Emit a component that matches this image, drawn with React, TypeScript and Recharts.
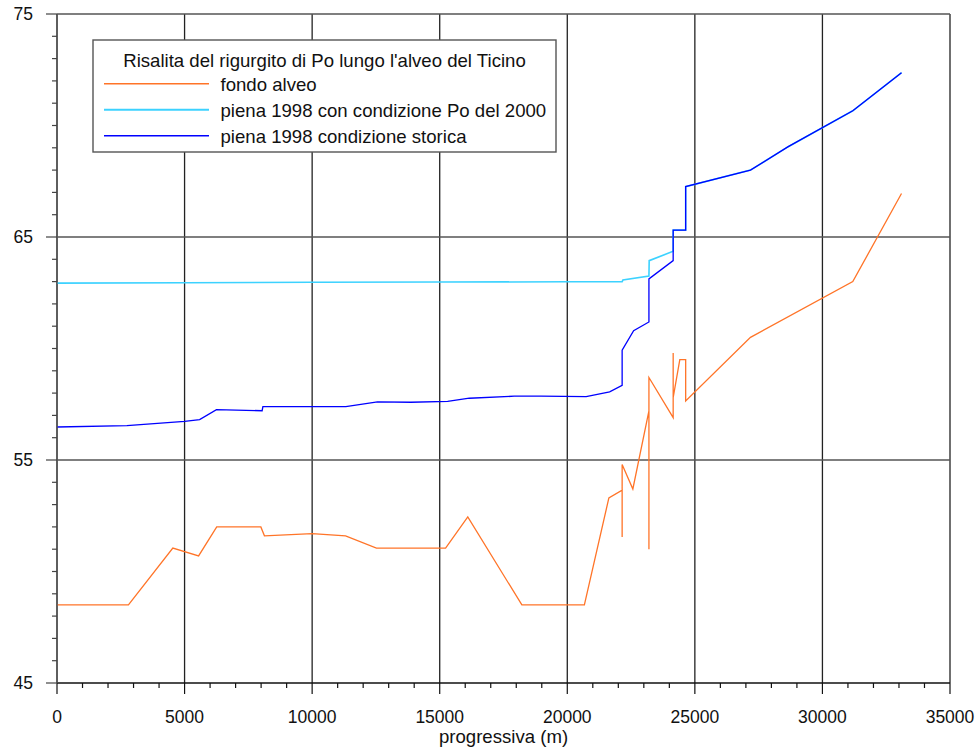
import React from 'react';
import { LineChart, Line, XAxis, YAxis, CartesianGrid } from 'recharts';

// ---- data ----
const fondoX = [0, 2800, 4540, 5550, 6260, 7990, 8130, 10000, 11310, 12520, 15230, 16100, 18220, 20670, 21630, 22150, 22150, 22150, 22570, 23200, 23200, 23200, 24150, 24150, 24150, 24410, 24640, 24640, 27180, 31190, 33100];
const fondoY = [48.5, 48.5, 51.05, 50.7, 52.0, 52.0, 51.6, 51.7, 51.6, 51.05, 51.05, 52.45, 48.5, 48.5, 53.3, 53.65, 51.55, 54.8, 53.7, 57.2, 51.0, 58.7, 56.9, 59.8, 57.8, 59.5, 59.5, 57.65, 60.5, 63.0, 66.95];

const po2000X = [0, 5000, 10000, 15000, 20000, 22150, 22180, 23200, 23210, 24150, 24150, 24640, 24640, 27180, 28660, 31190, 33100];
const po2000Y = [62.93, 62.95, 62.97, 62.98, 62.99, 63.0, 63.07, 63.25, 63.94, 64.36, 65.31, 65.31, 67.26, 68.0, 69.05, 70.66, 72.37];

const storicaX = [0, 2740, 5000, 5590, 6250, 8040, 8070, 11320, 12560, 13870, 15310, 16160, 17920, 18970, 20740, 21660, 22150, 22150, 22600, 23200, 23200, 24150, 24150, 24640, 24640, 27180, 28660, 31190, 33100];
const storicaY = [56.48, 56.54, 56.73, 56.81, 57.26, 57.21, 57.39, 57.39, 57.61, 57.59, 57.63, 57.77, 57.86, 57.86, 57.84, 58.06, 58.35, 59.93, 60.8, 61.19, 63.12, 63.94, 65.31, 65.31, 67.26, 68.0, 69.05, 70.66, 72.37];

const xTicks = [0, 1000, 2000, 3000, 4000, 5000, 6000, 7000, 8000, 9000, 10000, 11000, 12000, 13000, 14000, 15000, 16000, 17000, 18000, 19000, 20000, 21000, 22000, 23000, 24000, 25000, 26000, 27000, 28000, 29000, 30000, 31000, 32000, 33000, 34000, 35000];
const xMajor = [0, 5000, 10000, 15000, 20000, 25000, 30000, 35000];
const yTicks = [45, 46, 47, 48, 49, 50, 51, 52, 53, 54, 55, 56, 57, 58, 59, 60, 61, 62, 63, 64, 65, 66, 67, 68, 69, 70, 71, 72, 73, 74, 75];
const yMajor = [45, 55, 65, 75];

const legendTitle = "Risalita del rigurgito di Po lungo l'alveo del Ticino";
const seriesNames = ['fondo alveo', 'piena 1998 con condizione Po del 2000', 'piena 1998 condizione storica'];
const seriesColors = ['#ff7428', '#3cd2ff', '#0000ff'];

const zip = (xs: number[], ys: number[]) => xs.map((x, i) => ({ x, y: ys[i] }));
const fondoData = zip(fondoX, fondoY);
const po2000Data = zip(po2000X, po2000Y);
const storicaData = zip(storicaX, storicaY);

const FONT = 'Liberation Sans, Arial, sans-serif';

const XTick = (props: any) => {
  const { x, y, payload } = props;
  const v = payload.value;
  const major = xMajor.includes(v);
  return (
    <g>
      <line x1={x} x2={x} y1={y} y2={y + (major ? 11 : 5)} stroke="#111" strokeWidth={1.2} />
      {major && (
        <text x={x} y={y + 40} textAnchor="middle" fontSize={17.5} fill="#111" fontFamily={FONT}>
          {v}
        </text>
      )}
    </g>
  );
};

const YTick = (props: any) => {
  const { x, y, payload } = props;
  const v = payload.value;
  const major = yMajor.includes(v);
  return (
    <g>
      <line x1={x - (major ? 11 : 5)} x2={x} y1={y} y2={y} stroke="#444" strokeWidth={1.2} />
      {major && (
        <text x={x - 24} y={y + 6.3} textAnchor="end" fontSize={17.5} fill="#111" fontFamily={FONT}>
          {v}
        </text>
      )}
    </g>
  );
};

const LegendBox = () => {
  const left = 93;
  const top = 40;
  const w = 463;
  const h = 112;
  return (
    <svg
      width={w + 2}
      height={h + 2}
      style={{ position: 'absolute', left: left - 1, top: top - 1 }}
    >
      <rect x={1} y={1} width={w} height={h} fill="#fff" stroke="#555" strokeWidth={1.4} />
      <text x={1 + w / 2} y={27.5} textAnchor="middle" fontSize={18.6} fill="#111" fontFamily={FONT}>
        {legendTitle}
      </text>
      {seriesNames.map((n, i) => (
        <g key={n}>
          <line x1={12} x2={117} y1={44.7 + 26 * i} y2={44.7 + 26 * i} stroke={seriesColors[i]} strokeWidth={i === 1 ? 2 : 1.4} />
          <text x={128.5} y={52.3 + 26 * i} fontSize={18.6} fill="#111" fontFamily={FONT}>
            {n}
          </text>
        </g>
      ))}
    </svg>
  );
};

export default function App() {
  return (
    <div style={{ position: 'absolute', left: 0, top: 0, width: 979, height: 750, background: '#fff', fontFamily: FONT }}>
      <LineChart width={979} height={750} margin={{ top: 14, right: 29, bottom: 0, left: 0 }}>
        <CartesianGrid horizontal={false} verticalValues={xMajor} stroke="#222" strokeWidth={1.3} />
        <CartesianGrid vertical={false} horizontalValues={[55, 65, 75]} stroke="#555" strokeWidth={1.3} />
        <XAxis
          dataKey="x"
          type="number"
          domain={[0, 35000]}
          ticks={xTicks}
          interval={0}
          height={67}
          tickSize={0}
          tickMargin={0}
          tickLine={false}
          axisLine={{ stroke: '#111', strokeWidth: 1.3 }}
          tick={<XTick />}
          allowDataOverflow
          label={{ value: 'progressiva (m)', position: 'insideBottom', offset: 7, fontSize: 18.6, fill: '#111', fontFamily: FONT }}
        />
        <YAxis
          dataKey="y"
          type="number"
          domain={[45, 75]}
          ticks={yTicks}
          interval={0}
          width={57}
          tickSize={0}
          tickMargin={0}
          tickLine={false}
          axisLine={{ stroke: '#555', strokeWidth: 1.3 }}
          tick={<YTick />}
          allowDataOverflow
        />
        <Line data={fondoData} dataKey="y" stroke={seriesColors[0]} strokeWidth={1.3} dot={false} isAnimationActive={false} />
        <Line data={po2000Data} dataKey="y" stroke={seriesColors[1]} strokeWidth={1.6} dot={false} isAnimationActive={false} />
        <Line data={storicaData} dataKey="y" stroke={seriesColors[2]} strokeWidth={1.3} dot={false} isAnimationActive={false} />
      </LineChart>
      <LegendBox />
    </div>
  );
}
